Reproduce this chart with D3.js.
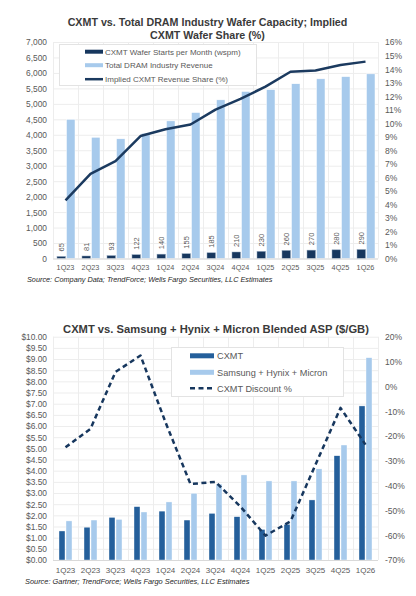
<!DOCTYPE html>
<html>
<head>
<meta charset="utf-8">
<script src="https://cdn.jsdelivr.net/npm/d3@7"></script>
<style>
  html, body { margin: 0; padding: 0; background: #fff; }
  svg { display: block; font-family: "Liberation Sans", Arial, sans-serif; }
</style>
</head>
<body>
<svg id="chart" width="416" height="596"></svg>
<script>
// ---------- DATA ----------
const quarters = ['1Q23','2Q23','3Q23','4Q23','1Q24','2Q24','3Q24','4Q24','1Q25','2Q25','3Q25','4Q25','1Q26'];
// Chart 1
const cxmtWspm = [65, 81, 93, 122, 140, 155, 185, 210, 230, 260, 270, 280, 290];
const dramCapacity = [4500, 3920, 3870, 4050, 4450, 4720, 5130, 5400, 5460, 5650, 5810, 5880, 5970];
const impliedShare = [4.3, 6.25, 7.2, 9.05, 9.55, 9.9, 11.0, 11.8, 12.7, 13.8, 13.9, 14.3, 14.55];
const leftTicks1 = d3.range(0, 7001, 500);
const rightTicks1 = d3.range(0, 17, 1);
// Chart 2
const cxmtAsp = [1.30, 1.47, 1.91, 2.39, 2.19, 1.79, 2.09, 1.94, 1.37, 1.60, 2.69, 4.67, 6.90];
const peerAsp = [1.75, 1.79, 1.82, 2.15, 2.60, 2.99, 3.40, 3.81, 3.54, 3.54, 4.08, 5.15, 9.06];
const cxmtDiscount = [-24.6, -17.1, 5.8, 12.4, -14.5, -39.4, -38.5, -48.5, -60.2, -54.4, -31.6, -8.7, -23.5];
const leftTicks2 = d3.range(0, 10.001, 0.5);
const rightTicks2 = d3.range(-70, 21, 10);

// ---------- STYLE ----------
const C = {
  navy: '#17375E', line: '#1B3A5F', light: '#A7CAEC', mid: '#245F9B',
  grid: '#EDEDED', axis: '#D9D9D9', tick: '#595959', title: '#3A3A3A', src: '#262626'
};
const svg = d3.select('#chart');
const X0 = 53, X1 = 378;

function grid(g, x, y, yTicks) {
  g.selectAll('.hg').data(yTicks).join('line')
    .attr('x1', X0).attr('x2', X1)
    .attr('y1', d => y(d) + 0.5).attr('y2', d => y(d) + 0.5)
    .attr('stroke', C.grid).attr('stroke-width', 1);
  const bounds = quarters.map(q => x(q)).concat([x(quarters[quarters.length - 1]) + x.bandwidth()]);
  g.selectAll('.vg').data(bounds).join('line')
    .attr('x1', d => Math.round(d) + 0.5).attr('x2', d => Math.round(d) + 0.5)
    .attr('y1', y.range()[1]).attr('y2', y.range()[0])
    .attr('stroke', C.grid).attr('stroke-width', 1);
}

function axes(g, x, yL, yR, lt, rt, lfmt, rfmt, lx, rx, xlabY, xfs) {
  const aL = d3.axisLeft(yL).tickValues(lt).tickFormat(lfmt).tickSize(0).tickPadding(0);
  const gl = g.append('g').attr('transform', `translate(${lx},0)`).call(aL);
  gl.select('.domain').remove();
  gl.selectAll('text').attr('fill', C.tick).style('font-size', '8.4px').attr('dy', '0.35em');
  const aR = d3.axisRight(yR).tickValues(rt).tickFormat(rfmt).tickSize(0).tickPadding(0);
  const gr = g.append('g').attr('transform', `translate(${rx},0)`).call(aR);
  gr.select('.domain').remove();
  gr.selectAll('text').attr('fill', C.tick).style('font-size', '8.5px').attr('dy', '0.35em');
  const aB = d3.axisBottom(x).tickSize(0).tickPadding(0);
  const gb = g.append('g').attr('transform', `translate(0,${xlabY})`).call(aB);
  gb.select('.domain').remove();
  gb.selectAll('text').attr('fill', C.tick).style('font-size', xfs).attr('dy', '0.35em');
  g.append('line').attr('x1', X0).attr('x2', X1)
    .attr('y1', yL(0) + 0.5).attr('y2', yL(0) + 0.5)
    .attr('stroke', C.axis).attr('stroke-width', 1);
}

// ================= CHART 1 =================
{
  const g = svg.append('g');
  const x = d3.scaleBand().domain(quarters).range([X0, X1]).padding(0);
  const yL = d3.scaleLinear().domain([0, 7000]).range([258.5, 42]);
  const yR = d3.scaleLinear().domain([0, 16]).range([258.5, 42]);
  const sub = d3.scaleBand().domain(['wspm', 'cap']).range([4, 22]).paddingInner(0.1);

  g.append('text').attr('x', 207.5).attr('y', 22).attr('text-anchor', 'middle').attr('dy', '0.35em')
    .attr('fill', C.title).style('font-weight', 'bold').style('font-size', '10.7px')
    .text('CXMT vs. Total DRAM Industry Wafer Capacity; Implied');
  g.append('text').attr('x', 207.5).attr('y', 35).attr('text-anchor', 'middle').attr('dy', '0.35em')
    .attr('fill', C.title).style('font-weight', 'bold').style('font-size', '10.7px')
    .text('CXMT Wafer Share (%)');

  grid(g, x, yL, leftTicks1);

  g.selectAll('.cap').data(dramCapacity).join('rect')
    .attr('x', (d, i) => x(quarters[i]) + sub('cap')).attr('width', sub.bandwidth())
    .attr('y', d => yL(d)).attr('height', d => yL(0) - yL(d))
    .attr('fill', C.light).attr('stroke', '#fff').attr('stroke-width', 0.5);
  g.selectAll('.wspm').data(cxmtWspm).join('rect')
    .attr('x', (d, i) => x(quarters[i]) + sub('wspm')).attr('width', sub.bandwidth())
    .attr('y', d => yL(d)).attr('height', d => yL(0) - yL(d))
    .attr('fill', C.navy).attr('stroke', '#8EA3BB').attr('stroke-width', 0.5);
  g.selectAll('.wl').data(cxmtWspm).join('text')
    .attr('transform', (d, i) => `translate(${x(quarters[i]) + sub('wspm') + sub.bandwidth() / 2 + 0.5},${yL(d) - 5}) rotate(-90)`)
    .attr('dy', '0.35em').attr('text-anchor', 'start')
    .attr('fill', C.tick).style('font-size', '7.5px').text(d => d);

  axes(g, x, yL, yR, leftTicks1, rightTicks1, d3.format(','), d => d + '%', 47, 385, 267, '7.3px');

  const line = d3.line().x((d, i) => x(quarters[i]) + x.bandwidth() / 2).y(d => yR(d));
  g.append('path').datum(impliedShare).attr('d', line)
    .attr('fill', 'none').attr('stroke', C.line).attr('stroke-width', 2.5).attr('stroke-linejoin', 'round');

  // legend
  const lg = g.append('g');
  lg.append('rect').attr('x', 59.5).attr('y', 44.5).attr('width', 197).attr('height', 41)
    .attr('fill', '#fff').attr('stroke', '#E3E3E3').attr('stroke-width', 1);
  const items1 = [
    { t: 'CXMT Wafer Starts per Month (wspm)', type: 'bar', c: C.navy, y: 51.7 },
    { t: 'Total DRAM Industry Revenue', type: 'bar', c: C.light, y: 65.2 },
    { t: 'Implied CXMT Revenue Share (%)', type: 'line', c: C.line, y: 79.2 }
  ];
  items1.forEach(it => {
    if (it.type === 'bar') {
      lg.append('rect').attr('x', 85).attr('y', it.y - 2).attr('width', 18).attr('height', 4).attr('fill', it.c);
    } else {
      lg.append('line').attr('x1', 85).attr('x2', 103).attr('y1', it.y).attr('y2', it.y)
        .attr('stroke', it.c).attr('stroke-width', 2.5);
    }
    lg.append('text').attr('x', 105).attr('y', it.y).attr('dy', '0.35em')
      .attr('fill', C.tick).style('font-size', '8px').text(it.t);
  });

  g.append('text').attr('x', 27).attr('y', 279).attr('dy', '0.35em')
    .attr('fill', C.src).style('font-size', '7.3px').style('font-style', 'italic')
    .text('Source: Company Data; TrendForce; Wells Fargo Securities, LLC Estimates');
}

// ================= CHART 2 =================
{
  const g = svg.append('g');
  const x = d3.scaleBand().domain(quarters).range([X0, X1]).padding(0);
  const yL = d3.scaleLinear().domain([0, 10]).range([560, 336.7]);
  const yR = d3.scaleLinear().domain([-70, 20]).range([560, 336.7]);
  const sub = d3.scaleBand().domain(['cxmt', 'peer']).range([6, 19]).paddingInner(1 / 7);

  g.append('text').attr('x', 216).attr('y', 329).attr('text-anchor', 'middle').attr('dy', '0.35em')
    .attr('fill', C.title).style('font-weight', 'bold').style('font-size', '11.2px')
    .text('CXMT vs. Samsung + Hynix + Micron Blended ASP ($/GB)');

  grid(g, x, yL, leftTicks2);

  g.selectAll('.ca').data(cxmtAsp).join('rect')
    .attr('x', (d, i) => x(quarters[i]) + sub('cxmt')).attr('width', sub.bandwidth())
    .attr('y', d => yL(d)).attr('height', d => yL(0) - yL(d))
    .attr('fill', C.mid).attr('stroke', '#fff').attr('stroke-width', 0.4);
  g.selectAll('.pa').data(peerAsp).join('rect')
    .attr('x', (d, i) => x(quarters[i]) + sub('peer')).attr('width', sub.bandwidth())
    .attr('y', d => yL(d)).attr('height', d => yL(0) - yL(d))
    .attr('fill', C.light).attr('stroke', '#fff').attr('stroke-width', 0.4);

  axes(g, x, yL, yR, leftTicks2, rightTicks2, d => '$' + d.toFixed(2), d => d + '%', 47, 385, 570, '8px');

  const line = d3.line().x((d, i) => x(quarters[i]) + x.bandwidth() / 2).y(d => yR(d));
  g.append('path').datum(cxmtDiscount).attr('d', line)
    .attr('fill', 'none').attr('stroke', C.navy).attr('stroke-width', 2.5)
    .attr('stroke-dasharray', '5,3.5').attr('stroke-linejoin', 'round');

  const lg = g.append('g');
  lg.append('rect').attr('x', 171.5).attr('y', 347.5).attr('width', 172).attr('height', 49)
    .attr('fill', '#fff').attr('stroke', '#E3E3E3').attr('stroke-width', 1);
  const items2 = [
    { t: 'CXMT', type: 'bar', c: C.mid, y: 355.8 },
    { t: 'Samsung + Hynix + Micron', type: 'bar', c: C.light, y: 372.3 },
    { t: 'CXMT Discount %', type: 'dash', c: C.navy, y: 388.3 }
  ];
  items2.forEach(it => {
    if (it.type === 'bar') {
      lg.append('rect').attr('x', 190).attr('y', it.y - 2.5).attr('width', 24).attr('height', 5).attr('fill', it.c);
    } else {
      lg.append('line').attr('x1', 190).attr('x2', 214).attr('y1', it.y).attr('y2', it.y)
        .attr('stroke', it.c).attr('stroke-width', 2.5).attr('stroke-dasharray', '5,3.5');
    }
    lg.append('text').attr('x', 217).attr('y', it.y).attr('dy', '0.35em')
      .attr('fill', C.tick).style('font-size', '9.2px').text(it.t);
  });

  g.append('text').attr('x', 25).attr('y', 581).attr('dy', '0.35em')
    .attr('fill', C.src).style('font-size', '7.4px').style('font-style', 'italic')
    .text('Source: Gartner; TrendForce; Wells Fargo Securities, LLC Estimates');
}
</script>
</body>
</html>
